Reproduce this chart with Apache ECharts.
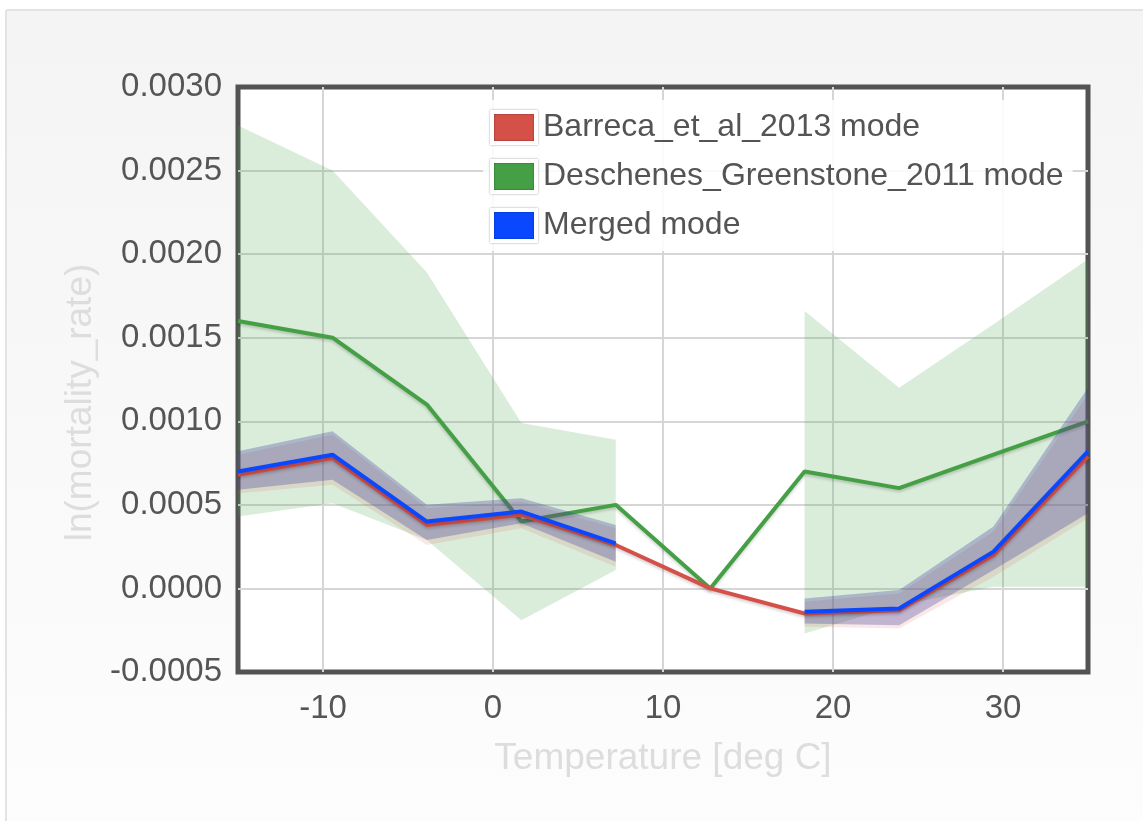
<!DOCTYPE html>
<html>
<head>
<meta charset="utf-8">
<script src="https://cdn.jsdelivr.net/npm/echarts@6/dist/echarts.min.js"></script>
<style>
  html, body { margin: 0; padding: 0; background: #ffffff; width: 1143px; height: 821px; overflow: hidden; }
  #frame {
    position: absolute; left: 5px; top: 9px; width: 1160px; height: 840px;
    border: 2px solid #e3e3e3; border-radius: 3px;
    background: linear-gradient(#f4f4f4, #fdfdfd);
  }
  #chart { position: absolute; left: 0; top: 0; width: 1143px; height: 821px; }
</style>
</head>
<body>
<div id="frame"></div>
<div id="chart"></div>
<script>
// Bin centres (deg C)
const temps = [-15, -9.44, -3.89, 1.67, 7.22, 12.78, 18.33, 23.89, 29.44, 35];

// Barreca et al. 2013: mode and band
const barreca     = [0.00068, 0.00078, 0.00038, 0.00044, 0.00026, 0.0, -0.00015, -0.00013, 0.00020, 0.00079];
const barrecaLow  = [0.00057, 0.00062, 0.00026, 0.00036, 0.00013, null, -0.00023, -0.00024, 0.00007, 0.00042];
const barrecaHigh = [0.00080, 0.00092, 0.00048, 0.00052, 0.00036, null, -0.00008, -0.00003, 0.00034, 0.00116];

// Deschenes & Greenstone 2011: mode and band
const deschenes     = [0.0016, 0.0015, 0.0011, 0.0004, 0.0005, 0.0, 0.0007, 0.0006, 0.0008, 0.0010];
const deschenesLow  = [0.00043, 0.00051, 0.00029, -0.00019, 0.00011, null, -0.00027, -0.00010, 0.00001, 0.00001];
const deschenesHigh = [0.00277, 0.0025, 0.00189, 0.00099, 0.00089, null, 0.00166, 0.0012, 0.00158, 0.00197];

// Merged: mode and band
const merged     = [0.0007, 0.0008, 0.0004, 0.00046, 0.00027, null, -0.00014, -0.00012, 0.00022, 0.00082];
const mergedLow  = [0.00059, 0.00065, 0.00029, 0.00039, 0.00016, null, -0.00021, -0.00022, 0.00011, 0.00045];
const mergedHigh = [0.00082, 0.00094, 0.0005, 0.00054, 0.00038, null, -0.00006, -0.00001, 0.00037, 0.0012];

const seriesNames = ['Barreca_et_al_2013 mode', 'Deschenes_Greenstone_2011 mode', 'Merged mode'];
const xTitle = 'Temperature [deg C]';
const yTitle = 'ln(mortality_rate)';

const FONT = '"Liberation Sans", Arial, Helvetica, sans-serif';
const RED = '#d55048', GREEN = '#45a045', BLUE = '#0a48ff';

const pairs = (ys) => temps.map((t, i) => [t, ys[i]]);

// Filled band between lo and hi, one polygon per contiguous run of points
function band(lo, hi, fill, z) {
  return {
    type: 'custom',
    silent: true,
    z: z,
    data: temps.map((t, i) => [t, lo[i], hi[i]]),
    encode: { x: 0, y: [1, 2] },
    renderItem: function (params, api) {
      const i = params.dataIndex;
      if (lo[i] == null || (i > 0 && lo[i - 1] != null)) return null;
      const upper = [], lower = [];
      for (let j = i; j < temps.length && lo[j] != null; j++) {
        upper.push(api.coord([temps[j], hi[j]]));
        lower.unshift(api.coord([temps[j], lo[j]]));
      }
      return { type: 'polygon', shape: { points: upper.concat(lower) }, style: { fill: fill } };
    }
  };
}

function modeLine(name, ys, color, z) {
  return {
    name: name,
    type: 'line',
    z: z,
    data: pairs(ys),
    symbol: 'none',
    connectNulls: false,
    itemStyle: { color: color },
    lineStyle: {
      color: color, width: 4,
      shadowColor: 'rgba(0,0,0,0.18)', shadowBlur: 3, shadowOffsetY: 2
    }
  };
}

const gridLine = { show: true, showMinLine: false, showMaxLine: false, lineStyle: { color: '#d6d6d6', width: 2 } };

const chart = echarts.init(document.getElementById('chart'), null, { renderer: 'canvas' });
chart.setOption({
  backgroundColor: 'transparent',
  animation: false,
  textStyle: { fontFamily: FONT },
  grid: {
    left: 238, right: 55, top: 87, bottom: 149,
    show: true, backgroundColor: '#ffffff',
    borderColor: '#535353', borderWidth: 5
  },
  legend: {
    data: seriesNames,
    orient: 'vertical',
    left: 483, top: 100,
    padding: [10, 9, 8, 7],
    itemWidth: 44, itemHeight: 31, itemGap: 14,
    icon: 'rect',
    backgroundColor: 'rgba(255,255,255,0.88)',
    itemStyle: {
      borderColor: '#ffffff', borderWidth: 4,
      shadowColor: 'rgba(0,0,0,0.45)', shadowBlur: 2
    },
    textStyle: { fontSize: 32, color: '#545454', fontFamily: FONT, padding: [0, 0, 0, 2] }
  },
  xAxis: {
    type: 'value', min: -15, max: 35, splitNumber: 5,
    axisLine: { show: false }, axisTick: { show: false },
    splitLine: gridLine,
    axisLabel: {
      showMinLabel: false, showMaxLabel: false,
      fontSize: 33, color: '#555555', margin: 20, fontFamily: FONT
    },
    name: xTitle, nameLocation: 'middle', nameGap: 68,
    nameTextStyle: { fontSize: 37, color: '#dddddd', fontFamily: FONT }
  },
  yAxis: {
    type: 'value', min: -0.0005, max: 0.003, interval: 0.0005,
    axisLine: { show: false }, axisTick: { show: false },
    splitLine: gridLine,
    axisLabel: {
      fontSize: 33, color: '#555555', margin: 16, fontFamily: FONT,
      formatter: v => (Math.abs(v) < 1e-12 ? 0 : v).toFixed(4)
    },
    name: yTitle, nameLocation: 'middle', nameGap: 137,
    nameTextStyle: { fontSize: 37, color: '#dddddd', fontFamily: FONT, padding: [0, 46, 0, 0] }
  },
  series: [
    band(deschenesLow, deschenesHigh, 'rgba(69,160,69,0.2)', 1),
    modeLine(seriesNames[1], deschenes, GREEN, 2),
    band(barrecaLow, barrecaHigh, 'rgba(213,80,72,0.13)', 3),
    band(mergedLow, mergedHigh, 'rgba(60,60,160,0.3)', 4),
    modeLine(seriesNames[0], barreca, RED, 5),
    modeLine(seriesNames[2], merged, BLUE, 6)
  ]
});
</script>
</body>
</html>
